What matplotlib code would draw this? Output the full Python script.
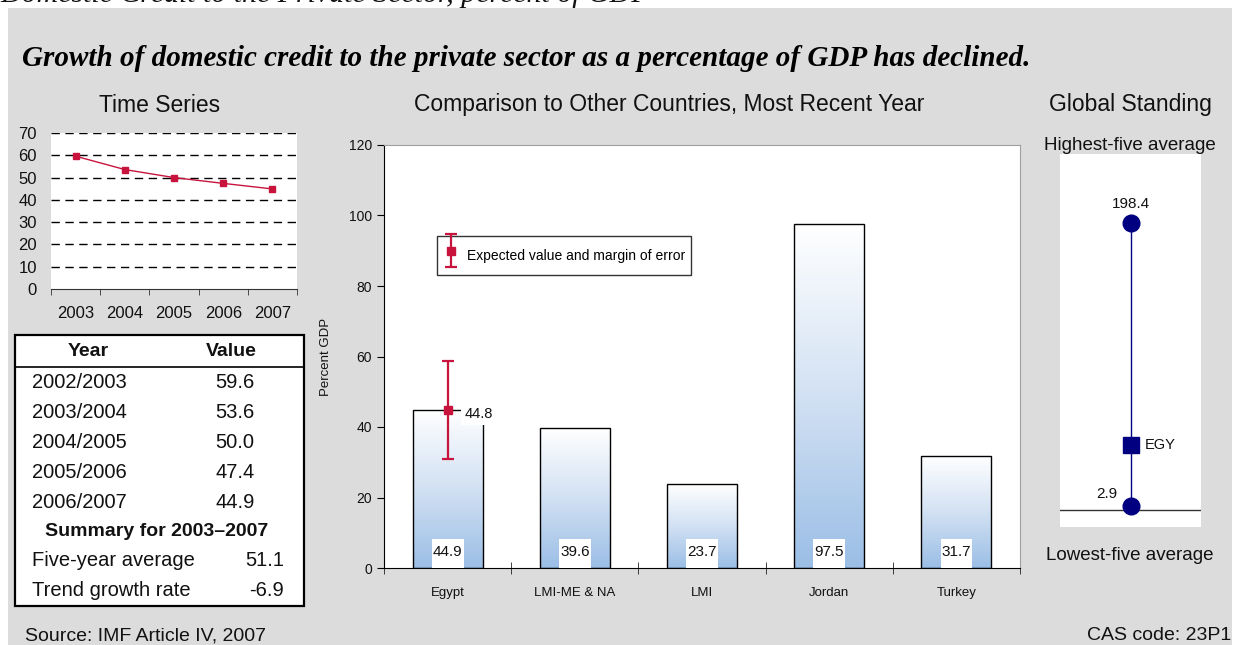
import numpy as np
import matplotlib
matplotlib.use("Agg")
import matplotlib.pyplot as plt
from matplotlib.patches import Rectangle
from matplotlib.lines import Line2D
from matplotlib.transforms import Affine2D
from matplotlib.colors import LinearSegmentedColormap
from matplotlib.container import ErrorbarContainer
from matplotlib.legend_handler import HandlerErrorbar

plt.rcParams['font.family'] = ['Liberation Sans', 'DejaVu Sans']

# time series / table
ts_years = ['2003', '2004', '2005', '2006', '2007']
fiscal_years = ['2002/2003', '2003/2004', '2004/2005', '2005/2006', '2006/2007']
ts_values = [59.6, 53.6, 50.0, 47.4, 44.9]
five_year_avg = 51.1
trend_growth = -6.9

# cross-country comparison
countries = ['Egypt', 'LMI-ME & NA', 'LMI', 'Jordan', 'Turkey']
credit = [44.9, 39.6, 23.7, 97.5, 31.7]
expected_value = 44.8
margin_of_error = 13.8

# global standing
highest_five = 198.4
lowest_five = 2.9
egypt_value = 44.9

W, H = 1236, 645
GRAY = '#DCDCDC'
RED = '#C8143C'
NAVY = '#000080'

fig = plt.figure(figsize=(W / 100, H / 100), dpi=100, facecolor='white')
pxT = Affine2D().scale(1 / W, -1 / H).translate(0, 1) + fig.transFigure


def px_axes(x0, y0, x1, y1):
    return fig.add_axes([x0 / W, 1 - y1 / H, (x1 - x0) / W, (y1 - y0) / H])


def ftext(x, y, s, **kw):
    kw.setdefault('va', 'center')
    kw.setdefault('color', '#111111')
    return fig.text(x, y, s, transform=pxT, **kw)


# page background
fig.patches.append(Rectangle((8, 8), 1224, 640, transform=pxT,
                             facecolor=GRAY, edgecolor='none', zorder=-10))

ftext(0, 2, 'Domestic Credit to the Private Sector, percent of GDP',
      va='baseline', fontsize=21.5, family='Liberation Serif', style='italic')
ftext(22, 58, 'Growth of domestic credit to the private sector as a percentage of GDP has declined.',
      fontsize=21, family='Liberation Serif', style='italic', weight='bold', color='black')

ftext(160, 105, 'Time Series', ha='center', fontsize=16.5)
ftext(669, 105, 'Comparison to Other Countries, Most Recent Year', ha='center', fontsize=16.5)
ftext(1130, 105, 'Global Standing', ha='center', fontsize=16.5)

# ---- time series ----
ax1 = px_axes(51, 133, 297, 289)
x = np.arange(len(ts_years))
ax1.plot(x, ts_values, color=RED, lw=1, marker='s', ms=4, zorder=3)
ax1.set_xlim(-0.5, len(ts_years) - 0.5)
ax1.set_ylim(0, 70)
ax1.set_yticks(range(0, 71, 10))
for v in range(10, 71, 10):
    ax1.axhline(v, color='black', lw=1, ls=(0, (6, 4)), zorder=1)
ax1.set_xticks(x)
ax1.set_xticklabels(ts_years)
ax1.set_xticks(np.arange(-0.5, len(ts_years)), minor=True)
ax1.tick_params(axis='x', which='major', length=0, pad=12, labelsize=12, labelcolor='#111111')
ax1.tick_params(axis='x', which='minor', length=4, color='#333333', direction='out')
ax1.tick_params(axis='y', length=0, pad=10, labelsize=12, labelcolor='#111111')
for s in ['top', 'right', 'left']:
    ax1.spines[s].set_visible(False)
ax1.spines['bottom'].set_color('#333333')

# ---- summary table ----
fig.patches.append(Rectangle((15, 335), 289, 271, transform=pxT,
                             facecolor='white', edgecolor='black', lw=1.6, zorder=1))
fig.lines.append(Line2D([15, 304], [367, 367], transform=pxT, color='black', lw=1.2, zorder=2))
ftext(88, 351, 'Year', ha='center', fontsize=14, weight='bold', zorder=3)
ftext(231, 351, 'Value', ha='center', fontsize=14, weight='bold', zorder=3)
for i, (fy, v) in enumerate(zip(fiscal_years, ts_values)):
    ftext(32, 382 + 30 * i, fy, fontsize=14.5, zorder=3)
    ftext(235, 382 + 30 * i, f'{v:.1f}', ha='center', fontsize=14.5, zorder=3)
ftext(157, 531, 'Summary for 2003\u20132007', ha='center', fontsize=14, weight='bold', zorder=3)
ftext(32, 561, 'Five-year average', fontsize=14.5, zorder=3)
ftext(284, 561, f'{five_year_avg:.1f}', ha='right', fontsize=14.5, zorder=3)
ftext(32, 591, 'Trend growth rate', fontsize=14.5, zorder=3)
ftext(284, 591, f'{trend_growth:.1f}', ha='right', fontsize=14.5, zorder=3)

ftext(25, 636, 'Source: IMF Article IV, 2007', fontsize=14)
ftext(1231, 636, 'CAS code: 23P1', ha='right', fontsize=14)

# ---- comparison bars ----
ax2 = px_axes(384, 145, 1020, 568)
xb = np.arange(len(countries))
bw = 0.55
cmap = LinearSegmentedColormap.from_list('barfill', ['#9BBEE6', '#D2E1F3', '#FFFFFF'])
grad = np.linspace(0, 1, 256).reshape(-1, 1)
bars = ax2.bar(xb, credit, width=bw, facecolor='none', edgecolor='black', lw=1, zorder=3)
for b in bars:
    im = ax2.imshow(grad, cmap=cmap, origin='lower', aspect='auto', zorder=2,
                    extent=[b.get_x(), b.get_x() + b.get_width(), 0, b.get_height()])
    im.set_clip_path(b)
# value tags sitting on the baseline
for xi, v in zip(xb, credit):
    ax2.add_patch(Rectangle((xi - 0.125, 0), 0.25, 8.2, facecolor='white',
                            edgecolor='none', zorder=4))
    ax2.text(xi, 4.5, f'{v:.1f}', ha='center', va='center', fontsize=11,
             color='#111111', zorder=5)

eb = ax2.errorbar(0, expected_value, yerr=margin_of_error, fmt='s', color=RED, ms=6,
                  elinewidth=1.6, capsize=4, capthick=1.6, zorder=6)
ax2.annotate(f'{expected_value:.1f}', (0, expected_value), xytext=(12, -3),
             textcoords='offset points', ha='left', va='center', fontsize=10.5, color='#111111',
             zorder=5, bbox=dict(boxstyle='square,pad=0.25', facecolor='white', edgecolor='none'))

leg = ax2.legend([eb], ['Expected value and margin of error'], loc='upper left',
                 bbox_to_anchor=(0.083, 0.785), fontsize=10, frameon=True, fancybox=False,
                 framealpha=1, edgecolor='#333333', handlelength=1.2, handleheight=2.7,
                 borderpad=0.4, handletextpad=0.6, borderaxespad=0,
                 handler_map={ErrorbarContainer: HandlerErrorbar(xerr_size=1.2)})
leg.get_frame().set_linewidth(1)
leg.set_zorder(7)

ax2.set_xlim(-0.5, len(countries) - 0.5)
ax2.set_ylim(0, 120)
ax2.set_yticks(range(0, 121, 20))
ax2.set_xticks(xb)
ax2.set_xticklabels(countries)
ax2.set_xticks(np.arange(-0.5, len(countries)), minor=True)
ax2.tick_params(axis='x', which='major', length=0, pad=14, labelsize=9.5, labelcolor='#111111')
ax2.tick_params(axis='x', which='minor', length=8, direction='inout', color='#222222')
ax2.tick_params(axis='y', length=5, direction='out', labelsize=10, labelcolor='#111111')
ax2.set_ylabel('Percent GDP', fontsize=9.5, labelpad=12, color='#111111')
for s in ['top', 'right']:
    ax2.spines[s].set_color('#A0A0A0')
for s in ['left', 'bottom']:
    ax2.spines[s].set_color('black')

# ---- global standing ----
ftext(1130, 145, 'Highest-five average', ha='center', fontsize=13.5)
ftext(1130, 555, 'Lowest-five average', ha='center', fontsize=13.5)
ax3 = px_axes(1060, 154, 1201, 527)
ax3.set_xlim(0, 1)
ax3.set_ylim(-11.6, 246.1)
ax3.axhline(0, color='#333333', lw=1)
ax3.plot([0.5, 0.5], [lowest_five, highest_five], color=NAVY, lw=1, zorder=2)
ax3.plot([0.5, 0.5], [lowest_five, highest_five], 'o', color=NAVY, ms=12, zorder=3)
ax3.plot(0.5, egypt_value, 's', color=NAVY, ms=12, zorder=3)
ax3.annotate(f'{highest_five:.1f}', (0.5, highest_five), xytext=(0, 14), textcoords='offset points',
             ha='center', va='center', fontsize=11, color='#111111')
ax3.annotate(f'{lowest_five:.1f}', (0.5, lowest_five), xytext=(-17, 9), textcoords='offset points',
             ha='center', va='center', fontsize=11, color='#111111')
ax3.annotate('EGY', (0.5, egypt_value), xytext=(10, 0), textcoords='offset points',
             ha='left', va='center', fontsize=10.5, color='#111111')
ax3.set_xticks([])
ax3.set_yticks([])
for s in ax3.spines.values():
    s.set_visible(False)

fig.savefig('out.png', dpi=100, facecolor='white')
